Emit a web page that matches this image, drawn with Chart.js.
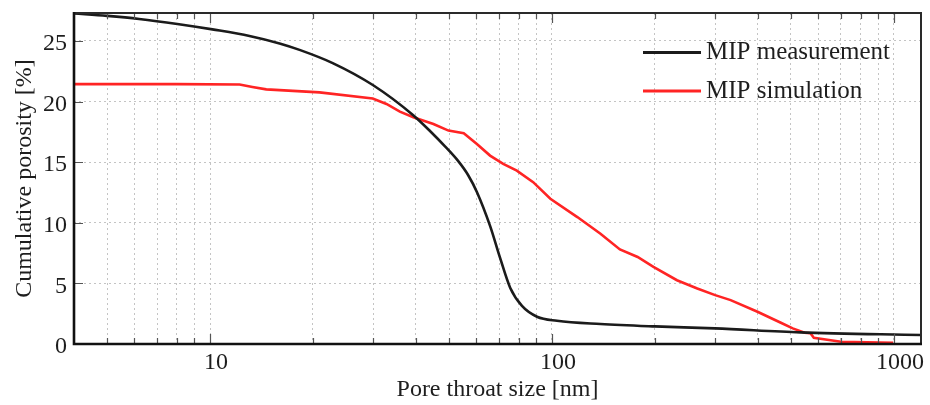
<!DOCTYPE html>
<html><head><meta charset="utf-8">
<script src="https://cdn.jsdelivr.net/npm/chart.js@4"></script>
<style>html,body{margin:0;padding:0;background:#fff}#wrap{width:930px;height:405px}</style>
</head><body><div id="wrap"><canvas id="c" width="930" height="405"></canvas></div>
<script>
// ---- data ----
const measX = [4, 5, 6.2, 8.02, 10.16, 13.04, 15.97, 18.27, 22.84, 29.92, 39.2, 43.97, 48.65, 53.12, 56.82, 60.3, 65.9, 70.5, 75.5, 81.7, 90.4, 103.4, 138.6, 200, 299.6, 532, 1200];
const measY = [27.26, 27.06, 26.81, 26.4, 25.95, 25.41, 24.79, 24.26, 23.17, 21.36, 18.89, 17.57, 16.3, 15.1, 13.94, 12.54, 9.74, 7.1, 4.62, 3.14, 2.25, 1.92, 1.65, 1.45, 1.29, 0.96, 0.74];
const simX = [4, 8, 12.2, 13.3, 14.6, 20.9, 29.9, 32.8, 35.9, 39.3, 45, 49.8, 55.2, 60.3, 65.9, 72, 78.9, 88.1, 98.9, 118.6, 138.6, 158, 178, 198, 232, 266, 300, 333, 399, 467, 506, 548, 570, 583, 700, 995];
const simY = [21.43, 21.43, 21.4, 21.2, 21.0, 20.75, 20.25, 19.8, 19.16, 18.7, 18.15, 17.6, 17.38, 16.5, 15.54, 14.86, 14.3, 13.35, 11.98, 10.47, 9.1, 7.8, 7.18, 6.36, 5.26, 4.58, 4.03, 3.62, 2.66, 1.75, 1.29, 0.93, 0.88, 0.52, 0.19, 0.1];
const seriesNames = ['MIP measurement', 'MIP simulation'];
const xTickValues = [5, 6, 7, 8, 9, 10, 20, 30, 40, 50, 60, 70, 80, 90, 100, 200, 300, 400, 500, 600, 700, 800, 900, 1000];
const xMajorTicks = [10, 100, 1000];
const yTickValues = [0, 5, 10, 15, 20, 25];
const xTitle = 'Pore throat size [nm]';
const yTitle = 'Cumulative porosity [%]';

const toPts = (xs, ys) => xs.map((x, i) => ({x: x, y: ys[i]}));
const FONT = "'Liberation Serif', 'Times New Roman', serif";
Chart.defaults.font.family = FONT;
Chart.defaults.color = '#1e1e1e';

const frameTicks = {
  id: 'frameTicks',
  afterDraw(chart) {
    const {ctx, chartArea: a, scales: {x, y}} = chart;
    ctx.save();
    ctx.lineWidth = 1.2;
    ctx.strokeStyle = '#555';
    ctx.beginPath();
    xTickValues.forEach(v => {
      const px = Math.round(x.getPixelForValue(v)) + 0.5;
      const len = xMajorTicks.includes(v) ? 10 : 6;
      ctx.moveTo(px, a.bottom); ctx.lineTo(px, a.bottom - len);
      ctx.moveTo(px, a.top); ctx.lineTo(px, a.top + len);
    });
    yTickValues.forEach(v => {
      const py = Math.round(y.getPixelForValue(v)) + 0.5;
      ctx.moveTo(a.left, py); ctx.lineTo(a.left + 9, py);
    });
    ctx.stroke();
    // frame
    ctx.strokeStyle = '#2a2a2a';
    ctx.lineWidth = 2;
    ctx.beginPath();
    ctx.moveTo(a.left, a.top); ctx.lineTo(a.right, a.top); ctx.lineTo(a.right, a.bottom);
    ctx.stroke();
    ctx.strokeStyle = '#111';
    ctx.lineWidth = 2.6;
    ctx.beginPath();
    ctx.moveTo(a.left, a.top - 1); ctx.lineTo(a.left, a.bottom); ctx.lineTo(a.right + 1, a.bottom);
    ctx.stroke();
    ctx.restore();
  }
};

const innerLegend = {
  id: 'innerLegend',
  afterDatasetsDraw(chart) {
    const ctx = chart.ctx;
    const rows = [52.5, 91];
    ctx.save();
    ctx.font = '25px ' + FONT;
    ctx.textBaseline = 'middle';
    ctx.fillStyle = '#1e1e1e';
    chart.data.datasets.forEach((ds, i) => {
      const yy = rows[i];
      ctx.strokeStyle = ds.borderColor;
      ctx.lineWidth = 3;
      ctx.beginPath(); ctx.moveTo(643, yy); ctx.lineTo(701, yy); ctx.stroke();
      ctx.fillText(ds.label, 706, yy);
    });
    ctx.restore();
  }
};

new Chart(document.getElementById('c'), {
  type: 'line',
  data: {
    datasets: [
      {label: seriesNames[0], data: toPts(measX, measY), borderColor: '#1b1b1b', borderWidth: 2.6, pointRadius: 0, cubicInterpolationMode: 'monotone', fill: false},
      {label: seriesNames[1], data: toPts(simX, simY), borderColor: '#ff2424', borderWidth: 2.6, pointRadius: 0, tension: 0, fill: false}
    ]
  },
  options: {
    responsive: false,
    animation: false,
    devicePixelRatio: 1,
    layout: {padding: {top: 13, right: 9, left: 0, bottom: 0}},
    plugins: {legend: {display: false}, tooltip: {enabled: false}},
    scales: {
      x: {
        type: 'logarithmic', min: 4, max: 1200,
        afterBuildTicks: s => { s.ticks = xTickValues.map(v => ({value: v, major: xMajorTicks.includes(v)})); },
        afterFit: s => { s.height = 61; s.paddingLeft = 0; s.paddingRight = 0; },
        ticks: {
          autoSkip: false, maxRotation: 0, padding: 4, labelOffset: 6,
          font: {size: 24}, color: '#1e1e1e',
          callback: v => xMajorTicks.includes(Math.round(v)) ? String(Math.round(v)) : ''
        },
        grid: {color: '#c4c4c4', lineWidth: 1, drawTicks: false},
        border: {display: false, dash: [2, 3]},
        title: {display: true, text: xTitle, font: {size: 24}, color: '#1e1e1e', padding: {top: 0, bottom: 1}}
      },
      y: {
        type: 'linear', min: 0, max: 27.3,
        afterBuildTicks: s => { s.ticks = yTickValues.map(v => ({value: v})); },
        afterFit: s => { s.width = 74; s.paddingTop = 0; s.paddingBottom = 0; },
        ticks: {padding: 7, labelOffset: 3, font: {size: 24}, color: '#1e1e1e'},
        grid: {color: '#c4c4c4', lineWidth: 1, drawTicks: false},
        border: {display: false, dash: [2, 3]},
        title: {display: true, text: yTitle, font: {size: 24}, color: '#1e1e1e', padding: {top: 10, bottom: 0}}
      }
    }
  },
  plugins: [innerLegend, frameTicks]
});
</script></body></html>
